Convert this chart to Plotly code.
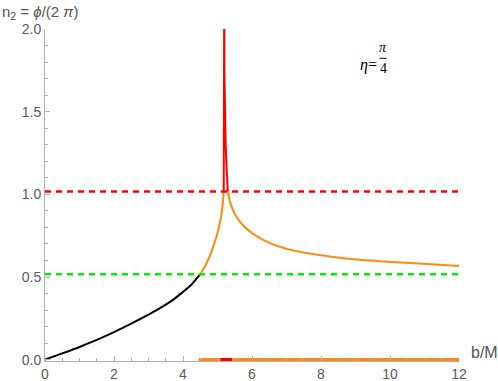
import plotly.graph_objects as go

# ---- data ----
black_b = [0, 0.5, 1.0, 1.5, 2.0, 2.5, 3.0, 3.5, 3.75, 4.0, 4.25, 4.5]
black_n = [0, 0.038, 0.077, 0.12, 0.167, 0.218, 0.272, 0.333, 0.368, 0.41, 0.455, 0.517]

orange_left_b = [4.5, 4.65, 4.8, 4.95, 5.05, 5.12, 5.16, 5.18]
orange_left_n = [0.517, 0.57, 0.64, 0.73, 0.81, 0.89, 0.96, 1.017]

red_spike_b = [5.18, 5.188, 5.193, 5.196, 5.2, 5.21, 5.235, 5.26, 5.3]
red_spike_n = [1.017, 1.25, 1.55, 2.3, 1.75, 1.5, 1.31, 1.17, 1.017]

orange_right_b = [5.3, 5.36, 5.45, 5.55, 5.7, 5.9, 6.1, 6.35, 6.8, 7.3, 8.3, 9.2, 10.2, 11.2, 12.0]
orange_right_n = [1.017, 0.955, 0.905, 0.865, 0.822, 0.782, 0.752, 0.722, 0.683, 0.656, 0.623, 0.603, 0.589, 0.577, 0.567]

red_level = 1.017
green_level = 0.517
dashed_span = [0, 12]
bottom_orange_span = [4.45, 12]
bottom_red_span = [5.09, 5.42]

x_ticks = [0, 2, 4, 6, 8, 10, 12]
y_ticks = [0.0, 0.5, 1.0, 1.5, 2.0]
y_tick_text = ["0.0", "0.5", "1.0", "1.5", "2.0"]

ORANGE = "#FF8A12"
RED = "#FF0000"
GREEN = "#00EE00"
AXIS = "#B0B0B0"
TICKFONT = dict(family="Liberation Sans, Arial, sans-serif", size=14, color="#5A5A5A")

fig = go.Figure()

fig.add_trace(go.Scatter(x=black_b, y=black_n, mode="lines",
                         line=dict(color="black", width=2, shape="spline", smoothing=0.5), showlegend=False))
fig.add_trace(go.Scatter(x=orange_left_b, y=orange_left_n, mode="lines",
                         line=dict(color=ORANGE, width=2, shape="spline", smoothing=0.6), showlegend=False))
fig.add_trace(go.Scatter(x=orange_right_b, y=orange_right_n, mode="lines",
                         line=dict(color=ORANGE, width=2, shape="spline", smoothing=0.6), showlegend=False))
fig.add_trace(go.Scatter(x=red_spike_b, y=red_spike_n, mode="lines",
                         line=dict(color=RED, width=2), showlegend=False))

fig.add_trace(go.Scatter(x=dashed_span, y=[red_level, red_level], mode="lines",
                         line=dict(color=RED, width=2.5, dash="6px,5px"), showlegend=False))
fig.add_trace(go.Scatter(x=dashed_span, y=[green_level, green_level], mode="lines",
                         line=dict(color=GREEN, width=2.5, dash="6px,5px"), showlegend=False))

fig.add_trace(go.Scatter(x=bottom_orange_span, y=[0, 0], mode="lines",
                         line=dict(color=ORANGE, width=3.5), showlegend=False))
fig.add_trace(go.Scatter(x=bottom_red_span, y=[0, 0], mode="lines",
                         line=dict(color=RED, width=3.5), showlegend=False))

fig.update_xaxes(range=[0, 12], tickvals=x_ticks, ticktext=[str(v) for v in x_ticks],
                 automargin=False,
                 showgrid=False, zeroline=False, showline=True, linecolor=AXIS, linewidth=1,
                 ticks="inside", ticklen=5, tickcolor=AXIS, tickfont=TICKFONT,
                 minor=dict(dtick=0.5, tick0=0, ticks="inside", ticklen=3, tickcolor=AXIS, showgrid=False))
fig.update_yaxes(range=[-0.008, 2.0], tickvals=y_ticks, ticktext=y_tick_text,
                 automargin=False,
                 showgrid=False, zeroline=False, showline=True, linecolor=AXIS, linewidth=1,
                 ticks="inside", ticklen=5, tickcolor=AXIS, tickfont=TICKFONT,
                 minor=dict(dtick=0.1, tick0=0, ticks="inside", ticklen=3, tickcolor=AXIS, showgrid=False))

fig.update_layout(
    width=498, height=381,
    margin=dict(l=45, r=39, t=29, b=20, autoexpand=False),
    paper_bgcolor="white", plot_bgcolor="white",
    annotations=[
        dict(text="b/M", xref="paper", yref="y", x=1.025, y=0.045, xanchor="left", yanchor="middle",
             showarrow=False, font=dict(family="Liberation Sans, Arial, sans-serif", size=16, color="#555555")),
        dict(text="n<sub>2</sub> = <i>ϕ</i>/(2 <i>π</i>)", xref="paper", yref="paper", x=-0.109, y=1.05,
             xanchor="left", yanchor="middle", showarrow=False,
             font=dict(family="Liberation Sans, Arial, sans-serif", size=15, color="#555555")),
        dict(text="<i>η</i>=", xref="x", yref="y", x=9.37, y=1.785, xanchor="center", yanchor="middle",
             showarrow=False, font=dict(family="Liberation Serif, Times New Roman, serif", size=16, color="black")),
        dict(text="<i>π</i>", xref="x", yref="y", x=9.80, y=1.89, xanchor="center", yanchor="middle",
             showarrow=False, font=dict(family="Liberation Serif, Times New Roman, serif", size=14, color="black")),
        dict(text="4", xref="x", yref="y", x=9.80, y=1.76, xanchor="center", yanchor="middle",
             showarrow=False, font=dict(family="Liberation Serif, Times New Roman, serif", size=14, color="black")),
    ],
    shapes=[dict(type="line", xref="x", yref="y", x0=9.70, x1=9.90, y0=1.823, y1=1.823,
                 line=dict(color="black", width=1))],
)

fig.write_html("out.html", config={"displayModeBar": False},
               post_script="document.body.style.margin='0px';document.body.style.padding='0px';")
